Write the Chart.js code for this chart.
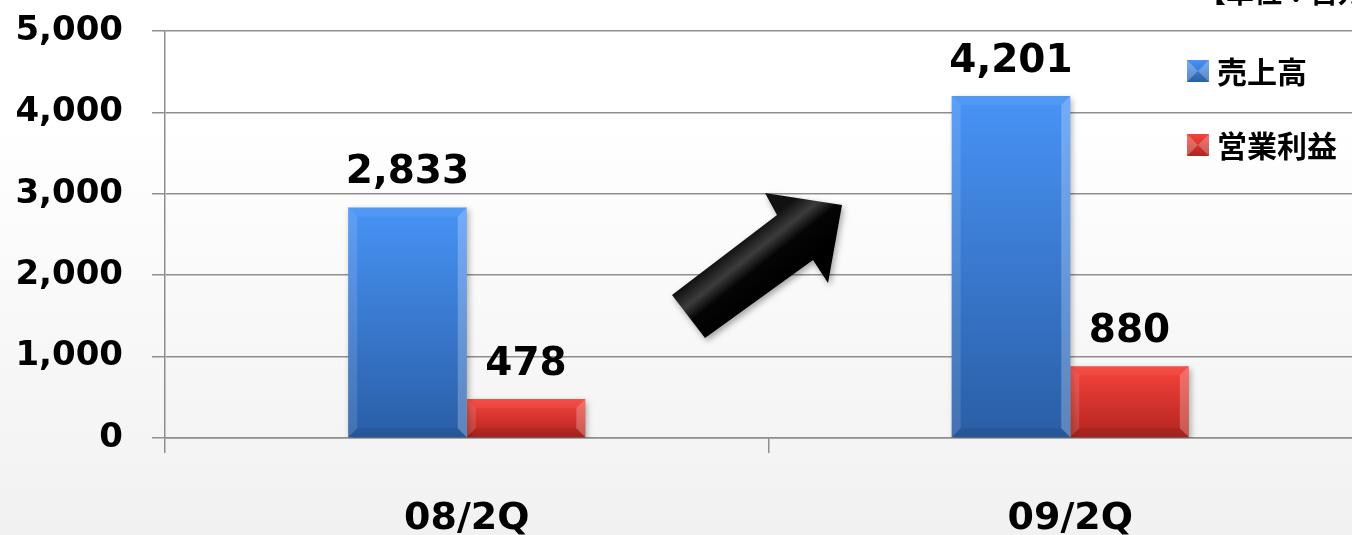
<!DOCTYPE html>
<html>
<head>
<meta charset="utf-8">
<script src="https://cdn.jsdelivr.net/npm/chart.js@4"></script>
<style>
  html, body { margin: 0; padding: 0; background: #fff; }
  #wrap { width: 1352px; height: 535px; overflow: hidden; position: relative; }
  #salesChart { display: block; }
</style>
</head>
<body>
<div id="wrap"><canvas id="salesChart" width="1372" height="535"></canvas></div>
<script>
const categories = ['08/2Q', '09/2Q'];
const seriesLabels = ['売上高', '営業利益'];
const sales = [2833, 4201];
const operatingProfit = [478, 880];
const yTickValues = [0, 1000, 2000, 3000, 4000, 5000];
const unitLabel = '【単位：百万円】';

const blueTop = '#4893f6', blueBottom = '#2a5ea6';
const redTop = '#f6433b', redBottom = '#b1241f';
const gridGray = '#8e8e8e';

function fmt(v) {
    return v.toLocaleString('en-US');
}

function barGradient(top, bottom) {
    return function (ctx) {
        const chart = ctx.chart;
        const y = chart.scales.y;
        if (!y || ctx.raw === undefined) return top;
        const yTop = y.getPixelForValue(ctx.raw);
        const yBot = y.getPixelForValue(0);
        if (!isFinite(yTop) || !isFinite(yBot) || yTop === yBot) return top;
        const g = chart.ctx.createLinearGradient(0, yTop, 0, yBot);
        g.addColorStop(0, top);
        g.addColorStop(1, bottom);
        return g;
    };
}

const backgroundPlugin = {
    id: 'bg',
    beforeDraw(chart) {
        const c = chart.ctx;
        const g = c.createLinearGradient(0, 120, 0, chart.height);
        g.addColorStop(0, '#ffffff');
        g.addColorStop(1, '#f1f1f1');
        c.save();
        c.fillStyle = g;
        c.fillRect(0, 0, chart.width, chart.height);
        c.restore();
    }
};

const shadowPlugin = {
    id: 'barShadow',
    beforeDatasetsDraw(chart) {
        const c = chart.ctx;
        c.save();
        c.shadowColor = 'rgba(0,0,0,0.3)';
        c.shadowBlur = 6;
        c.shadowOffsetX = 2;
        c.shadowOffsetY = 3;
    },
    afterDatasetsDraw(chart) {
        chart.ctx.restore();
    }
};

// bevel edges on bars, value labels, arrow
const decoPlugin = {
    id: 'deco',
    afterDatasetsDraw(chart) {
        const c = chart.ctx;
        chart.data.datasets.forEach((ds, di) => {
            const meta = chart.getDatasetMeta(di);
            meta.data.forEach((bar, i) => {
                const l = bar.x - bar.width / 2, r = bar.x + bar.width / 2;
                const t = bar.y, b = bar.base;
                const bv = Math.min(9, (b - t) / 2);
                c.save();
                c.fillStyle = 'rgba(255,255,255,0.12)';
                c.beginPath();
                c.moveTo(l, t); c.lineTo(l + bv, t + bv); c.lineTo(l + bv, b - bv); c.lineTo(l, b);
                c.closePath(); c.fill();
                c.fillStyle = 'rgba(255,255,255,0.24)';
                c.beginPath();
                c.moveTo(r, t); c.lineTo(r - bv, t + bv); c.lineTo(r - bv, b - bv); c.lineTo(r, b);
                c.closePath(); c.fill();
                c.fillStyle = 'rgba(255,255,255,0.06)';
                c.beginPath();
                c.moveTo(l, t); c.lineTo(r, t); c.lineTo(r - bv, t + bv); c.lineTo(l + bv, t + bv);
                c.closePath(); c.fill();
                c.fillStyle = 'rgba(0,0,0,0.08)';
                c.beginPath();
                c.moveTo(l, b); c.lineTo(r, b); c.lineTo(r - bv, b - bv); c.lineTo(l + bv, b - bv);
                c.closePath(); c.fill();

                c.fillStyle = '#000';
                c.font = 'bold 39px "DejaVu Sans"';
                c.textAlign = 'center';
                c.textBaseline = 'alphabetic';
                c.fillText(fmt(ds.data[i]), bar.x, t - 24);
                c.restore();
            });
        });

        // arrow between the two periods
        const pts = [[672, 295], [777, 215], [765, 193], [842, 205], [828, 283], [813, 260], [705, 338]];
        c.save();
        c.shadowColor = 'rgba(0,0,0,0.35)';
        c.shadowBlur = 6;
        c.shadowOffsetX = 2;
        c.shadowOffsetY = 3;
        c.beginPath();
        pts.forEach((p, k) => k ? c.lineTo(p[0], p[1]) : c.moveTo(p[0], p[1]));
        c.closePath();
        const g = c.createLinearGradient(724, 255, 759, 299);
        g.addColorStop(0, '#111');
        g.addColorStop(0.3, '#3c3c3c');
        g.addColorStop(0.55, '#050505');
        g.addColorStop(1, '#000');
        c.fillStyle = g;
        c.fill();
        c.restore();
    }
};

const legendPlugin = {
    id: 'sideLegend',
    afterDraw(chart) {
        const c = chart.ctx;
        const colors = [[blueTop, blueBottom], [redTop, redBottom]];
        const rows = [71, 145];
        c.save();
        seriesLabels.forEach((label, i) => {
            const x = 1187, y = rows[i] - 11, s = 22;
            const g = c.createLinearGradient(0, y, 0, y + s);
            g.addColorStop(0, colors[i][0]);
            g.addColorStop(1, colors[i][1]);
            c.fillStyle = g;
            c.fillRect(x, y, s, s);
            c.fillStyle = 'rgba(255,255,255,0.25)';
            c.beginPath();
            c.moveTo(x, y); c.lineTo(x + s / 2, y + s / 2); c.lineTo(x, y + s); c.closePath(); c.fill();
            c.beginPath();
            c.moveTo(x + s, y); c.lineTo(x + s / 2, y + s / 2); c.lineTo(x + s, y + s); c.closePath(); c.fill();
            c.fillStyle = '#000';
            c.font = 'bold 30px "Noto Sans CJK JP"';
            c.textAlign = 'left';
            c.textBaseline = 'middle';
            c.fillText(label, 1217, rows[i] + 1);
        });
        c.font = 'bold 28px "Noto Sans CJK JP"';
        c.textBaseline = 'alphabetic';
        c.fillText(unitLabel, 1198, 3);
        c.restore();
    }
};

new Chart(document.getElementById('salesChart'), {
    type: 'bar',
    data: {
        labels: categories,
        datasets: [
            {
                label: seriesLabels[0],
                data: sales,
                backgroundColor: barGradient(blueTop, blueBottom),
                borderWidth: 0
            },
            {
                label: seriesLabels[1],
                data: operatingProfit,
                backgroundColor: barGradient(redTop, redBottom),
                borderWidth: 0
            }
        ]
    },
    options: {
        responsive: false,
        devicePixelRatio: 1,
        animation: false,
        layout: { padding: { top: 31, right: 0, left: 0, bottom: 0 } },
        datasets: {
            bar: { categoryPercentage: 0.393, barPercentage: 1 }
        },
        plugins: {
            legend: { display: false },
            tooltip: { enabled: false }
        },
        scales: {
            x: {
                grid: {
                    offset: true,
                    drawOnChartArea: false,
                    drawTicks: true,
                    tickLength: 15,
                    color: gridGray,
                    lineWidth: 1.5
                },
                border: { display: true, color: gridGray, width: 1.5 },
                ticks: {
                    color: '#000',
                    padding: 43,
                    font: { family: '"DejaVu Sans"', size: 38, weight: 'bold' }
                },
                afterFit(scale) {
                    scale.height = 97;
                    scale.paddingLeft = 0;
                    scale.paddingRight = 0;
                }
            },
            y: {
                min: 0,
                max: 5000,
                afterBuildTicks(scale) {
                    scale.ticks = yTickValues.map(v => ({ value: v }));
                },
                grid: {
                    color: gridGray,
                    lineWidth: 1.5,
                    tickLength: 13
                },
                border: { display: true, color: gridGray, width: 1.5 },
                ticks: {
                    color: '#000',
                    padding: 29,
                    font: { family: '"DejaVu Sans"', size: 34, weight: 'bold' },
                    callback: v => fmt(v)
                },
                afterFit(scale) {
                    scale.width = 165;
                    scale.paddingTop = 0;
                    scale.paddingBottom = 0;
                }
            }
        }
    },
    plugins: [backgroundPlugin, shadowPlugin, decoPlugin, legendPlugin]
});
</script>
</body>
</html>
